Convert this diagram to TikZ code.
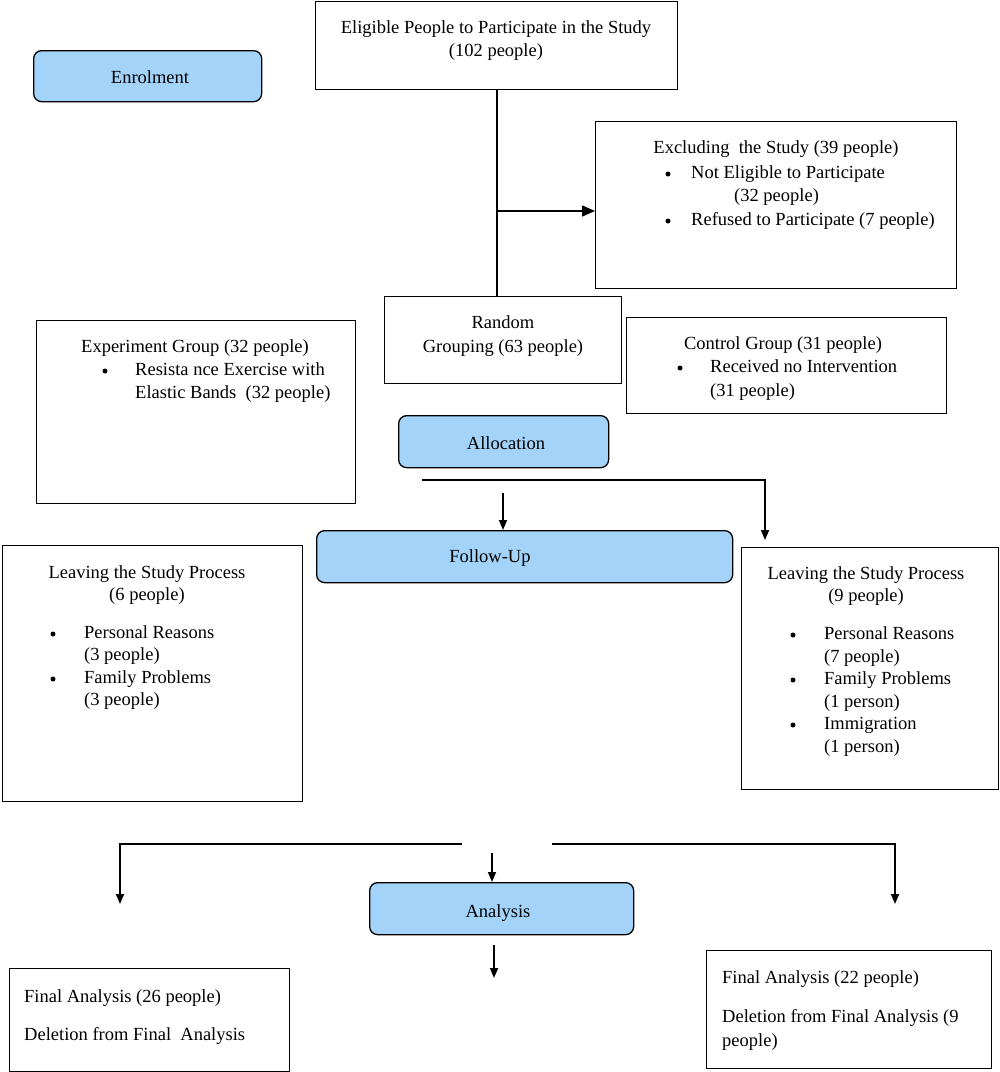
\documentclass[tikz,border=0pt]{standalone}
\usepackage{fontspec}
\setmainfont{Liberation Serif}
\usetikzlibrary{arrows.meta}
\definecolor{phaseblue}{HTML}{A3D3F9}
\begin{document}
\begin{tikzpicture}[x=1pt,y=-1pt,
 box/.style={draw,line width=1.3pt,inner sep=0pt,anchor=north west},
 phase/.style={box,fill=phaseblue,rounded corners=8pt},
 txt/.style={inner sep=0pt,font=\fontsize{18.5}{22}\selectfont,text height=12pt,text depth=5pt,yshift=-2pt},
 ltxt/.style={txt,anchor=west},
 conn/.style={line width=1.7pt},
 arr/.style={conn,-{Triangle[length=10pt,width=8pt]}},
 bigarr/.style={conn,-{Triangle[length=13pt,width=11pt]}},
 bul/.style={circle,fill,inner sep=0pt,minimum size=5pt}]
\useasboundingbox (0,0) rectangle (1000,1072);
% boxes
\node[phase,minimum width=228pt,minimum height=51pt] (enrol) at (33,50) {};
\node[box,minimum width=362pt,minimum height=88pt] (elig) at (315,1) {};
\node[box,minimum width=361pt,minimum height=167pt] (excl) at (595,121) {};
\node[box,minimum width=237pt,minimum height=87pt] (rand) at (384,296) {};
\node[box,minimum width=320pt,minimum height=96pt] (ctrl) at (626,317) {};
\node[box,minimum width=319pt,minimum height=183pt] (expg) at (36,320) {};
\node[phase,minimum width=210pt,minimum height=52pt] (alloc) at (398,415) {};
\node[phase,minimum width=416pt,minimum height=52pt] (follow) at (316,530) {};
\node[box,minimum width=300pt,minimum height=256pt] (leftL) at (2,545) {};
\node[box,minimum width=257pt,minimum height=242pt] (rightL) at (741,547) {};
\node[phase,minimum width=264pt,minimum height=52pt] (anal) at (369,882) {};
\node[box,minimum width=280pt,minimum height=103pt] (finL) at (9,968) {};
\node[box,minimum width=285pt,minimum height=118pt] (finR) at (706,950) {};
% texts
\node[txt] (tenrol) at (150,78) {Enrolment};
\node[txt] (telig1) at (496,28) {Eligible People to Participate in the Study};
\node[txt] (telig2) at (496,51) {(102 people)};
\node[txt] (texcl1) at (776,148) {Excluding\ \ the Study (39 people)};
\node[bul] (bex1) at (668,174) {};
\node[ltxt] (texcl2) at (691,173) {Not Eligible to Participate};
\node[ltxt] (texcl3) at (734,196) {(32 people)};
\node[bul] (bex2) at (668,221) {};
\node[ltxt] (texcl4) at (691,220) {Refused to Participate (7 people)};
\node[txt] (trand1) at (503,323) {Random};
\node[txt] (trand2) at (503,347) {Grouping (63 people)};
\node[txt] (tctrl1) at (783,344) {Control Group (31 people)};
\node[bul] (bct) at (680,368) {};
\node[ltxt] (tctrl2) at (710,367) {Received no Intervention};
\node[ltxt] (tctrl3) at (710,391) {(31 people)};
\node[txt] (texp1) at (195,347) {Experiment Group (32 people)};
\node[bul] (bexp) at (105,371) {};
\node[ltxt] (texp2) at (135,370) {Resista nce Exercise with};
\node[ltxt] (texp3) at (135,393) {Elastic Bands\ \ (32 people)};
\node[txt] (talloc) at (506,444) {Allocation};
\node[txt] (tfollow) at (490,557) {Follow-Up};
\node[txt] (tl1) at (147,573) {Leaving the Study Process};
\node[txt] (tl2) at (147,595) {(6 people)};
\node[bul] (bl1) at (53,634) {};
\node[ltxt] (tl3) at (84,633) {Personal Reasons};
\node[ltxt] (tl4) at (84,655) {(3 people)};
\node[bul] (bl2) at (53,679) {};
\node[ltxt] (tl5) at (84,678) {Family Problems};
\node[ltxt] (tl6) at (84,700) {(3 people)};
\node[txt] (tr1) at (866,574) {Leaving the Study Process};
\node[txt] (tr2) at (866,596) {(9 people)};
\node[bul] (br1) at (793,635) {};
\node[ltxt] (tr3) at (824,634) {Personal Reasons};
\node[ltxt] (tr4) at (824,657) {(7 people)};
\node[bul] (br2) at (793,680) {};
\node[ltxt] (tr5) at (824,679) {Family Problems};
\node[ltxt] (tr6) at (824,702) {(1 person)};
\node[bul] (br3) at (793,725) {};
\node[ltxt] (tr7) at (824,724) {Immigration};
\node[ltxt] (tr8) at (824,747) {(1 person)};
\node[txt] (tanal) at (498,912) {Analysis};
\node[ltxt] (tfl1) at (24,997) {Final Analysis (26 people)};
\node[ltxt] (tfl2) at (24,1035) {Deletion from Final\ \ Analysis};
\node[ltxt] (tfr1) at (722,978) {Final Analysis (22 people)};
\node[ltxt] (tfr2) at (722,1017) {Deletion from Final Analysis (9};
\node[ltxt] (tfr3) at (722,1041) {people)};
% connectors
\draw[conn] (elig.south) -- (elig.south |- rand.north);
\coordinate (j1) at (496,211);
\draw[bigarr] (j1) -- (excl.west |- j1);
\coordinate (a1) at (422,480);
\coordinate (a2) at (765,480);
\coordinate (a3) at (765,540);
\draw[arr] (a1) -- (a2) -- (a3);
\coordinate (a4) at (503,493);
\draw[arr] (a4) -- (a4 |- follow.north);
\coordinate (b1) at (462,844);
\coordinate (b2) at (120,844);
\coordinate (b3) at (120,904);
\draw[arr] (b1) -- (b2) -- (b3);
\coordinate (b4) at (552,844);
\coordinate (b5) at (895,844);
\coordinate (b6) at (895,904);
\draw[arr] (b4) -- (b5) -- (b6);
\coordinate (b7) at (492,853);
\draw[arr] (b7) -- (b7 |- anal.north);
\coordinate (b8) at (494,945);
\coordinate (b9) at (494,978);
\draw[arr] (b8) -- (b9);
\end{tikzpicture}
\end{document}
